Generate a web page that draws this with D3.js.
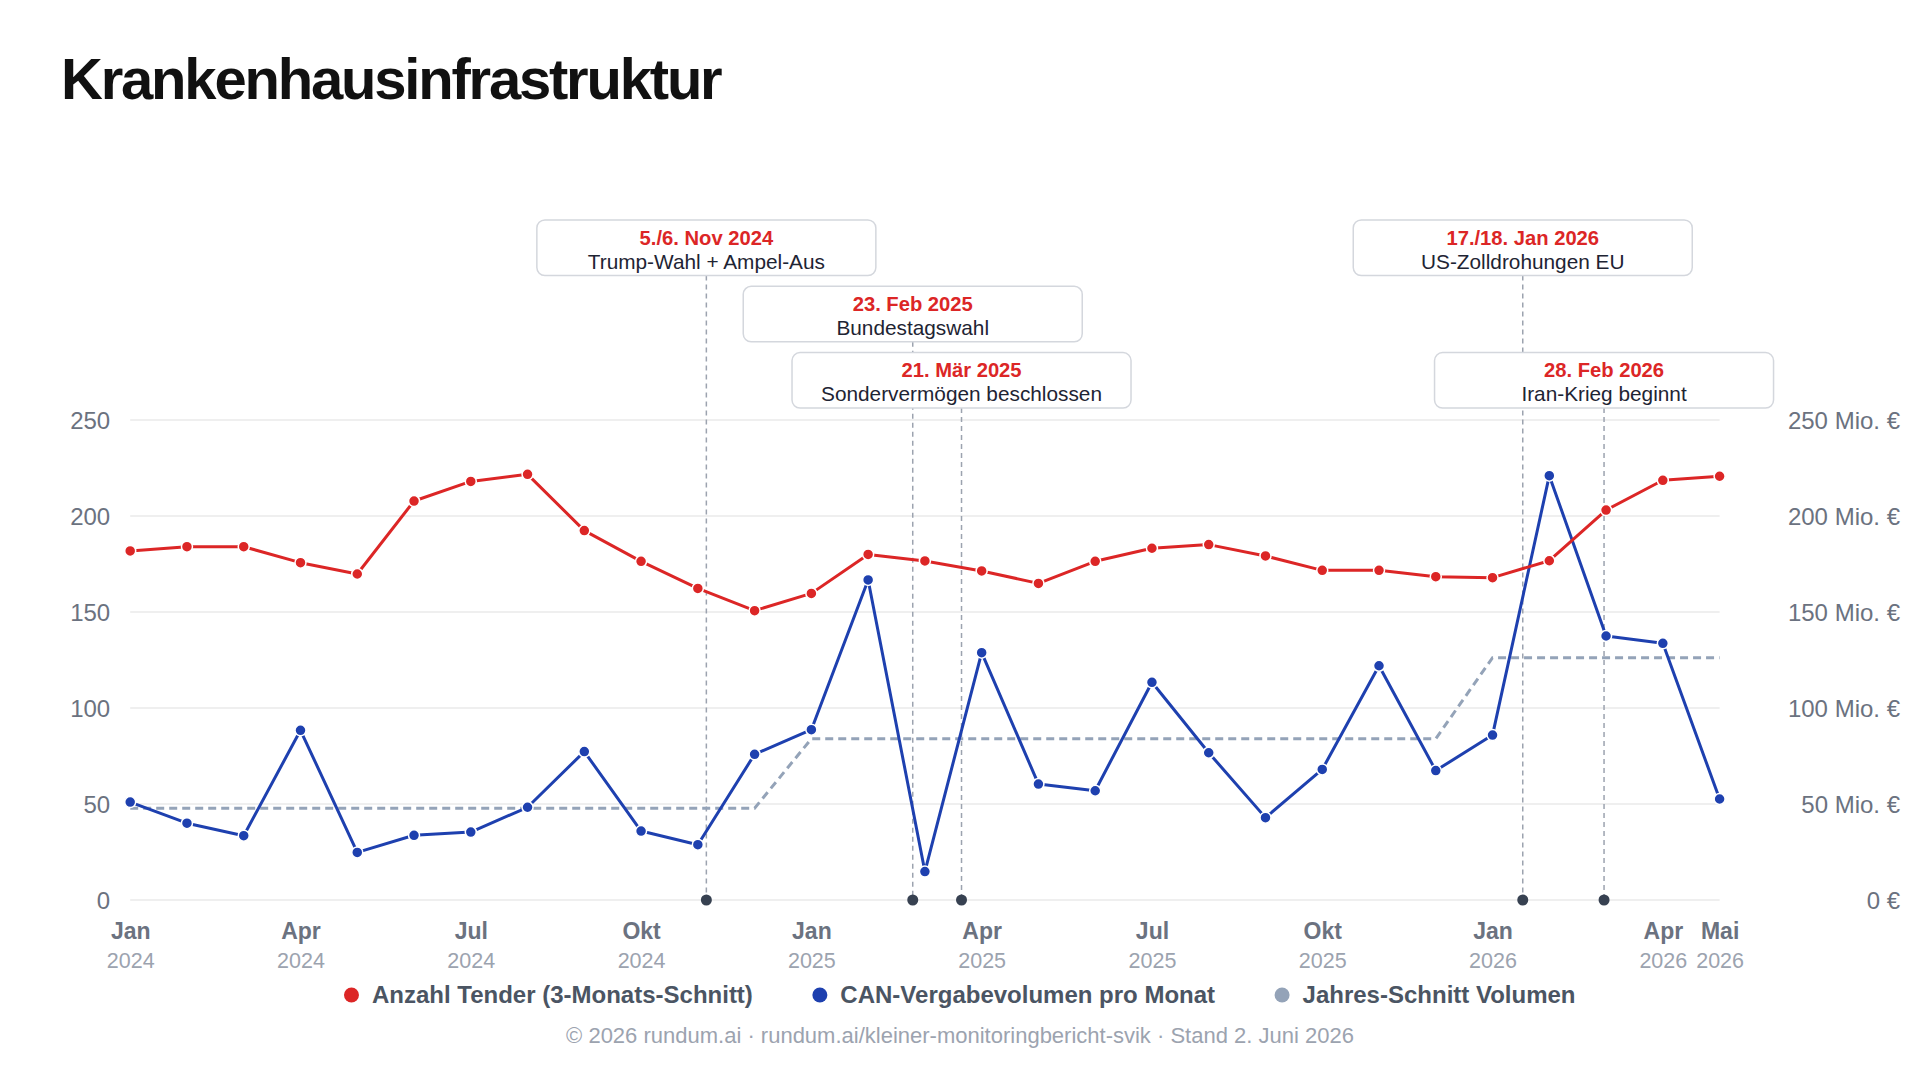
<!DOCTYPE html>
<html>
<head>
<meta charset="utf-8">
<script src="https://cdn.jsdelivr.net/npm/d3@7"></script>
<style>
  html, body { margin: 0; padding: 0; background: #ffffff; }
  svg { display: block; font-family: "Liberation Sans", Arial, Helvetica, sans-serif; }
</style>
</head>
<body>
<svg id="chart" width="1920" height="1080"></svg>
<script>
// ---------- data ----------
const months = [
  "2024-01","2024-02","2024-03","2024-04","2024-05","2024-06","2024-07","2024-08","2024-09","2024-10","2024-11","2024-12",
  "2025-01","2025-02","2025-03","2025-04","2025-05","2025-06","2025-07","2025-08","2025-09","2025-10","2025-11","2025-12",
  "2026-01","2026-02","2026-03","2026-04","2026-05"
];
const tenderCount = [
  181.8, 184, 184, 175.7, 169.8, 207.8, 218, 221.7, 192.4, 176.4, 162.3, 150.7,
  159.7, 180, 176.6, 171.4, 164.9, 176.4, 183.2, 185.1, 179.2, 171.7, 171.7, 168.4,
  167.9, 176.7, 203.1, 218.6, 220.7
];
const volumeMonthly = [
  51, 40, 33.5, 88.4, 24.8, 33.7, 35.4, 48.3, 77.3, 35.9, 28.8, 75.9,
  88.7, 166.7, 14.8, 128.8, 60.4, 56.9, 113.4, 76.7, 42.9, 68, 122, 67.4,
  85.9, 221, 137.5, 133.7, 52.6
];
const volumeYearAvg = [
  47.8, 47.8, 47.8, 47.8, 47.8, 47.8, 47.8, 47.8, 47.8, 47.8, 47.8, 47.8,
  84, 84, 84, 84, 84, 84, 84, 84, 84, 84, 84, 84,
  126.2, 126.2, 126.2, 126.2, 126.2
];
const tickMonths = ["2024-01","2024-04","2024-07","2024-10","2025-01","2025-04","2025-07","2025-10","2026-01","2026-04","2026-05"];
const tickMonthLabels = ["Jan","Apr","Jul","Okt","Jan","Apr","Jul","Okt","Jan","Apr","Mai"];
const tickYearLabels = ["2024","2024","2024","2024","2025","2025","2025","2025","2026","2026","2026"];
const yTicks = [0, 50, 100, 150, 200, 250];
const yTickLabelsLeft = ["0","50","100","150","200","250"];
const yTickLabelsRight = ["0 €","50 Mio. €","100 Mio. €","150 Mio. €","200 Mio. €","250 Mio. €"];
const eventMonths = ["2024-11","2025-02","2025-03","2026-01","2026-02"];
const eventDays = [5.5, 23, 21, 17.5, 28];
const eventDates = ["5./6. Nov 2024","23. Feb 2025","21. Mär 2025","17./18. Jan 2026","28. Feb 2026"];
const eventLabels = ["Trump-Wahl + Ampel-Aus","Bundestagswahl","Sondervermögen beschlossen","US-Zolldrohungen EU","Iran-Krieg beginnt"];
const eventLevels = [0, 1, 2, 0, 2];
const seriesNames = ["Anzahl Tender (3-Monats-Schnitt)","CAN-Vergabevolumen pro Monat","Jahres-Schnitt Volumen"];
const titleText = "Krankenhausinfrastruktur";
const footerText = "© 2026 rundum.ai · rundum.ai/kleiner-monitoringbericht-svik · Stand 2. Juni 2026";

// ---------- styles ----------
const C = {
  red: "#dc2626", blue: "#1e40af", avg: "#94a3b8", grid: "#efefef",
  axis: "#6b7280", year: "#9ca3af", title: "#111111", legend: "#4b5563",
  evLine: "#9ca3af", evDot: "#374151", boxStroke: "#d4d7dd", boxText: "#1e2433", footer: "#9ca3af"
};

const svg = d3.select("#chart");
const L = 130.2, R = 1719.6, T = 420, B = 900;

const x = d3.scalePoint().domain(months).range([L, R]);
const step = x.step();
const y = d3.scaleLinear().domain([0, 250]).range([B, T]);

function eventX(i) {
  const m = eventMonths[i];
  const [yy, mm] = m.split("-").map(Number);
  const dim = new Date(yy, mm, 0).getDate();
  return x(m) + (eventDays[i] - 1) / dim * step;
}

// title
svg.append("text").attr("x", 61).attr("y", 99)
  .attr("font-size", 58).attr("font-weight", 700).attr("letter-spacing", -2.2)
  .attr("fill", C.title).text(titleText);

// grid
svg.append("g").selectAll("line").data(yTicks).join("line")
  .attr("x1", L).attr("x2", R).attr("y1", d => y(d)).attr("y2", d => y(d))
  .attr("stroke", C.grid).attr("stroke-width", 2);

// left axis
const axL = svg.append("g").attr("transform", `translate(${L - 20},0)`)
  .call(d3.axisLeft(y).tickValues(yTicks).tickSize(0).tickPadding(0).tickFormat((d, i) => yTickLabelsLeft[i]));
axL.select(".domain").remove();
axL.selectAll("text").attr("font-size", 24).attr("fill", C.axis).attr("font-family", null).attr("dy", "0.35em");

// right axis
const axR = svg.append("g").attr("transform", `translate(1900,0)`)
  .call(d3.axisLeft(y).tickValues(yTicks).tickSize(0).tickPadding(0).tickFormat((d, i) => yTickLabelsRight[i]));
axR.select(".domain").remove();
axR.selectAll("text").attr("font-size", 24).attr("fill", C.axis).attr("font-family", null).attr("dy", "0.35em");

// x axis labels
const axX = svg.append("g").attr("transform", `translate(0,${B})`)
  .call(d3.axisBottom(x).tickValues(tickMonths).tickSize(0).tickPadding(0).tickFormat(""));
axX.select(".domain").remove();
axX.selectAll(".tick").each(function(d) {
  const i = tickMonths.indexOf(d);
  const g = d3.select(this);
  g.append("text").attr("y", 38.5).attr("text-anchor", "middle").attr("font-size", 23)
    .attr("font-weight", 700).attr("fill", C.axis).text(tickMonthLabels[i]);
  g.append("text").attr("y", 68).attr("text-anchor", "middle").attr("font-size", 21.5)
    .attr("fill", C.year).text(tickYearLabels[i]);
});

// events
const boxW = 339, boxH = 55.5, boxTop0 = 220, levelGap = 66.3;
const ev = svg.append("g");
eventMonths.forEach((m, i) => {
  const ex = eventX(i);
  const top = boxTop0 + eventLevels[i] * levelGap;
  ev.append("line").attr("x1", ex).attr("x2", ex).attr("y1", top + boxH).attr("y2", B)
    .attr("stroke", C.evLine).attr("stroke-width", 1.5).attr("stroke-dasharray", "5,4");
  ev.append("circle").attr("cx", ex).attr("cy", B).attr("r", 5.5).attr("fill", C.evDot);
  ev.append("rect").attr("x", ex - boxW / 2).attr("y", top).attr("width", boxW).attr("height", boxH)
    .attr("rx", 8).attr("fill", "#ffffff").attr("stroke", C.boxStroke).attr("stroke-width", 1.5);
  ev.append("text").attr("x", ex).attr("y", top + 24.5).attr("text-anchor", "middle")
    .attr("font-size", 20.2).attr("font-weight", 700).attr("fill", C.red).text(eventDates[i]);
  ev.append("text").attr("x", ex).attr("y", top + 48.5).attr("text-anchor", "middle")
    .attr("font-size", 20.8).attr("fill", C.boxText).text(eventLabels[i]);
});

// series
const lineGen = vals => d3.line().x((d, i) => x(months[i])).y(d => y(d))(vals);

svg.append("path").attr("d", lineGen(volumeYearAvg)).attr("fill", "none")
  .attr("stroke", C.avg).attr("stroke-width", 3).attr("stroke-dasharray", "8,5");

svg.append("path").attr("d", lineGen(volumeMonthly)).attr("fill", "none")
  .attr("stroke", C.blue).attr("stroke-width", 3).attr("stroke-linejoin", "round");
svg.append("g").selectAll("circle").data(volumeMonthly).join("circle")
  .attr("cx", (d, i) => x(months[i])).attr("cy", d => y(d)).attr("r", 5.5)
  .attr("fill", C.blue).attr("stroke", "#fff").attr("stroke-width", 1.5);

svg.append("path").attr("d", lineGen(tenderCount)).attr("fill", "none")
  .attr("stroke", C.red).attr("stroke-width", 3).attr("stroke-linejoin", "round");
svg.append("g").selectAll("circle").data(tenderCount).join("circle")
  .attr("cx", (d, i) => x(months[i])).attr("cy", d => y(d)).attr("r", 5.5)
  .attr("fill", C.red).attr("stroke", "#fff").attr("stroke-width", 1.5);

// legend
const legColors = [C.red, C.blue, C.avg];
const leg = svg.append("g");
let cursor = 0;
seriesNames.forEach((name, i) => {
  const g = leg.append("g");
  g.append("circle").attr("cx", 7).attr("cy", -8).attr("r", 7.5).attr("fill", legColors[i]);
  const t = g.append("text").attr("x", 27.5).attr("y", 0).attr("font-size", 24)
    .attr("font-weight", 700).attr("fill", C.legend).text(name);
  const w = 27.5 + t.node().getComputedTextLength();
  g.attr("transform", `translate(${cursor},0)`);
  cursor += w + 60;
});
const totalW = cursor - 60;
leg.attr("transform", `translate(${960 - totalW / 2},1003)`);

// footer
svg.append("text").attr("x", 960).attr("y", 1043).attr("text-anchor", "middle")
  .attr("font-size", 22).attr("fill", C.footer).text(footerText);
</script>
</body>
</html>
